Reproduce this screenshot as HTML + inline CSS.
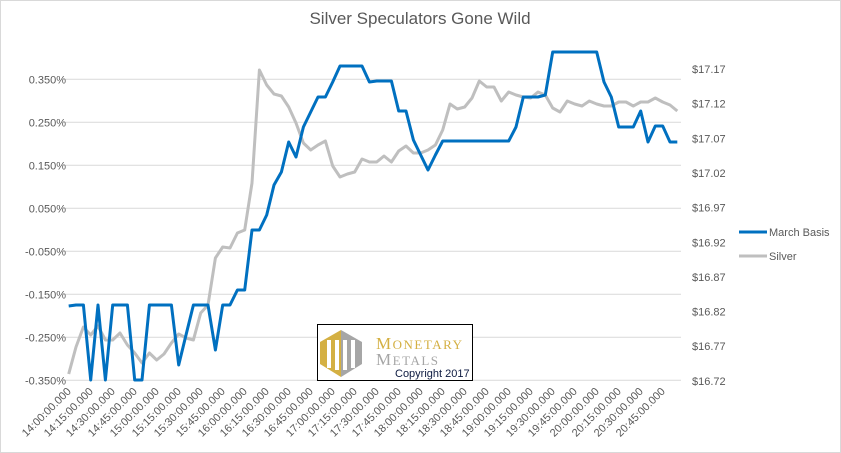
<!DOCTYPE html>
<html><head><meta charset="utf-8"><style>
body{margin:0;background:#fff;}
svg{display:block;font-family:"Liberation Sans",sans-serif;}
</style></head><body>
<svg id="c" width="841" height="453" xmlns="http://www.w3.org/2000/svg">
<rect x="0" y="0" width="841" height="453" fill="#fff"/>
<rect x="0.5" y="0.5" width="840" height="452" fill="none" stroke="#d9d9d9"/>
<text x="420" y="24" text-anchor="middle" font-size="17" fill="#595959">Silver Speculators Gone Wild</text>
<g id="grid" stroke="#d9d9d9" stroke-width="1"></g>
<g id="ll" font-size="11" fill="#595959" text-anchor="end"></g>
<g id="rl" font-size="11" fill="#595959"></g>
<g id="xl" font-size="11" fill="#595959" text-anchor="end"></g>
<polyline id="gray" fill="none" stroke="#bfbfbf" stroke-width="3" stroke-linejoin="round"/>
<polyline id="blue" fill="none" stroke="#0070c0" stroke-width="3" stroke-linejoin="round"/>
<line x1="739" y1="232" x2="767" y2="232" stroke="#0070c0" stroke-width="3"/>
<text x="769" y="236" font-size="11" fill="#595959">March Basis</text>
<line x1="739" y1="256" x2="767" y2="256" stroke="#bfbfbf" stroke-width="3"/>
<text x="769" y="260" font-size="11" fill="#595959">Silver</text>
<rect x="317.5" y="324.5" width="155" height="56" fill="#fff" stroke="#000"/>
<polygon points="341,330 320,342 320,364 341,377" fill="#d4b043"/>
<polygon points="341,330 362,342 362,364 341,377" fill="#a6a6a6"/>
<rect x="327" y="340" width="4" height="28" fill="#fff"/><rect x="335" y="340" width="4" height="30" fill="#fff"/>
<rect x="343" y="340" width="4" height="30" fill="#fff"/><rect x="351" y="340" width="4" height="28" fill="#fff"/>
<text x="376" y="349" font-size="17" fill="#d4b043" font-family="Liberation Serif,serif" letter-spacing="1.5">M<tspan font-size="13">ONETARY</tspan></text>
<text x="376" y="365" font-size="17" fill="#a6a6a6" font-family="Liberation Serif,serif" letter-spacing="1.5">M<tspan font-size="13">ETALS</tspan></text>
<text x="395" y="377" font-size="11" fill="#0d1a40">Copyright 2017</text>
</svg>
<script>
var ns="http://www.w3.org/2000/svg";
function el(p,t,a,txt){var e=document.createElementNS(ns,t);for(var k in a)e.setAttribute(k,a[k]);if(txt)e.textContent=txt;document.getElementById(p).appendChild(e);}
var ll=["0.350%","0.250%","0.150%","0.050%","-0.050%","-0.150%","-0.250%","-0.350%"];
for(var i=0;i<8;i++){var y=79.3+43*i;el("grid","line",{x1:65,x2:681,y1:y,y2:y});el("ll","text",{x:66,y:y+4},ll[i]);}
var rl=["$17.17","$17.12","$17.07","$17.02","$16.97","$16.92","$16.87","$16.82","$16.77","$16.72"];
for(var i=0;i<10;i++){var y=69+34.65*i;el("rl","text",{x:692,y:y+4},rl[i]);}
var x0=68.7,dx=7.333;
for(var j=0;j<28;j++){var h=14+Math.floor(j/4),m=(j%4)*15;var s=h+":"+(m<10?"0":"")+m+":00.000";var x=x0+dx*3*j+3,y=392;
el("xl","text",{x:x,y:y,transform:"rotate(-45 "+x+" "+y+")"},s);}
var b=[306,305,305,380,305,380,305,305,305,380,380,305,305,305,305,365,335,305,305,305,350,305,305,290,290,230,230,215,185,172,142,157,127,112,97,97,82,66,66,66,66,82,81,81,81,111,111,140,155,170,155,141,141,141,141,141,141,141,141,141,141,127,97,97,97,95,52,52,52,52,52,52,52,82,97,127,127,127,111,142,126,126,142,142];
var g=[374,347,327,335,326,340,340,333,345,353,363,353,360,354,343,334,338,340,313,305,258,247,248,233,230,183,70,85,94,96,107,123,143,150,145,141,166,177,174,172,159,162,162,156,162,151,146,153,153,150,145,130,104,109,107,98,81,87,87,101,92,95,97,98,92,95,108,112,101,104,106,101,104,106,106,102,102,106,102,102,98,102,105,111];
function pts(a){return a.map(function(v,i){return (x0+dx*i).toFixed(1)+","+Math.min(v,380.3)}).join(" ");}
document.getElementById("blue").setAttribute("points",pts(b));
document.getElementById("gray").setAttribute("points",pts(g));
</script>
</body></html>
